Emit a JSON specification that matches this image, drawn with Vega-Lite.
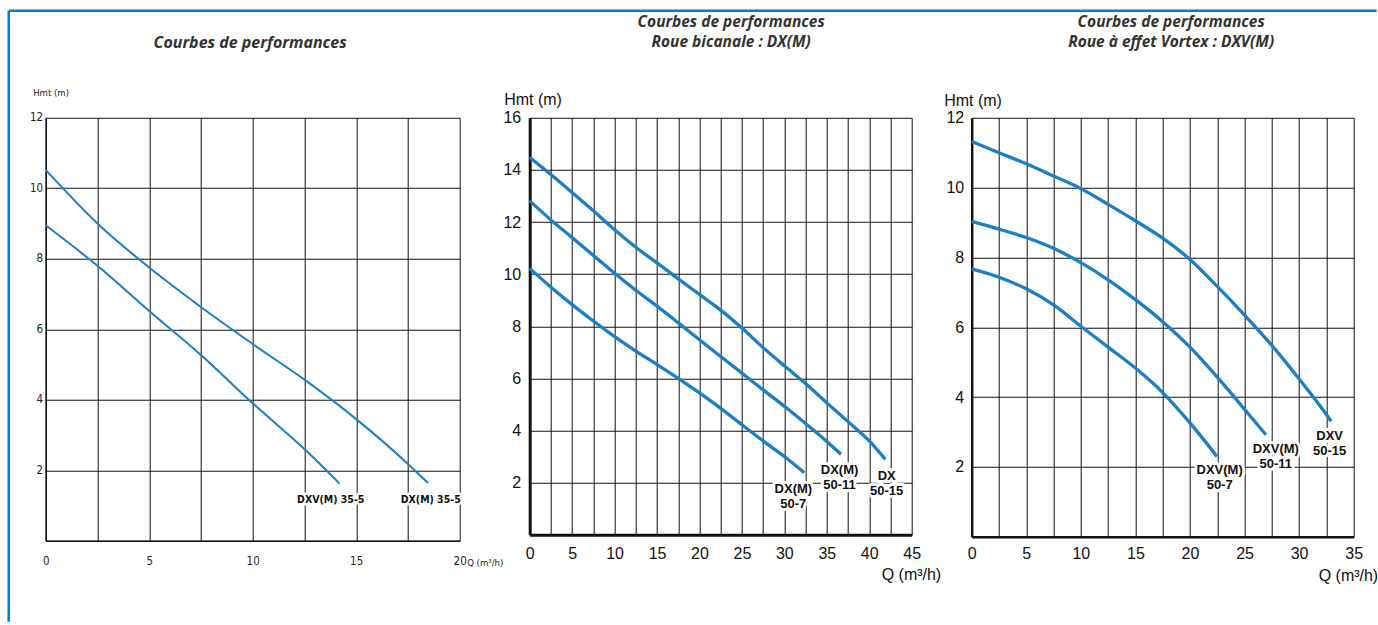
{
  "$schema": "https://vega.github.io/schema/vega-lite/v6.json",
  "padding": {"left": 6.7, "top": 8.75, "right": 0, "bottom": 0},
  "background": "white",
  "config": {"view": {"stroke": null}, "axis": {"ticks": false, "labelOverlap": false, "labelFlush": false}},
  "datasets": {
    "left": [
      {"model": "DX(M) 35-5", "q": 0, "h": 10.52}, {"model": "DX(M) 35-5", "q": 2.5, "h": 9.0}, {"model": "DX(M) 35-5", "q": 5, "h": 7.75}, {"model": "DX(M) 35-5", "q": 7.5, "h": 6.63}, {"model": "DX(M) 35-5", "q": 10, "h": 5.58}, {"model": "DX(M) 35-5", "q": 12.5, "h": 4.57}, {"model": "DX(M) 35-5", "q": 15, "h": 3.45}, {"model": "DX(M) 35-5", "q": 17.5, "h": 2.18}, {"model": "DX(M) 35-5", "q": 18.47, "h": 1.64},
      {"model": "DXV(M) 35-5", "q": 0, "h": 8.95}, {"model": "DXV(M) 35-5", "q": 2.5, "h": 7.8}, {"model": "DXV(M) 35-5", "q": 5, "h": 6.52}, {"model": "DXV(M) 35-5", "q": 7.5, "h": 5.27}, {"model": "DXV(M) 35-5", "q": 10, "h": 3.9}, {"model": "DXV(M) 35-5", "q": 12.5, "h": 2.6}, {"model": "DXV(M) 35-5", "q": 14.2, "h": 1.62}
    ],
    "leftLabels": [
      {"q": 13.77, "h": 1.16, "label": "DXV(M) 35-5"},
      {"q": 18.6, "h": 1.16, "label": "DX(M) 35-5"}
    ],
    "mid": [
      {"model": "DX 50-15", "q": 0, "h": 14.48}, {"model": "DX 50-15", "q": 2.5, "h": 13.82}, {"model": "DX 50-15", "q": 5, "h": 13.13}, {"model": "DX 50-15", "q": 7.5, "h": 12.43}, {"model": "DX 50-15", "q": 10, "h": 11.7}, {"model": "DX 50-15", "q": 12.5, "h": 11.03}, {"model": "DX 50-15", "q": 15, "h": 10.43}, {"model": "DX 50-15", "q": 17.5, "h": 9.82}, {"model": "DX 50-15", "q": 20, "h": 9.22}, {"model": "DX 50-15", "q": 22.5, "h": 8.62}, {"model": "DX 50-15", "q": 25, "h": 7.93}, {"model": "DX 50-15", "q": 27.5, "h": 7.18}, {"model": "DX 50-15", "q": 30, "h": 6.48}, {"model": "DX 50-15", "q": 32.5, "h": 5.8}, {"model": "DX 50-15", "q": 35, "h": 5.06}, {"model": "DX 50-15", "q": 37.5, "h": 4.34}, {"model": "DX 50-15", "q": 40, "h": 3.6}, {"model": "DX 50-15", "q": 41.9, "h": 2.89},
      {"model": "DX(M) 50-11", "q": 0, "h": 12.81}, {"model": "DX(M) 50-11", "q": 2.5, "h": 12.08}, {"model": "DX(M) 50-11", "q": 5, "h": 11.4}, {"model": "DX(M) 50-11", "q": 7.5, "h": 10.72}, {"model": "DX(M) 50-11", "q": 10, "h": 10.03}, {"model": "DX(M) 50-11", "q": 12.5, "h": 9.38}, {"model": "DX(M) 50-11", "q": 15, "h": 8.77}, {"model": "DX(M) 50-11", "q": 17.5, "h": 8.13}, {"model": "DX(M) 50-11", "q": 20, "h": 7.48}, {"model": "DX(M) 50-11", "q": 22.5, "h": 6.84}, {"model": "DX(M) 50-11", "q": 25, "h": 6.2}, {"model": "DX(M) 50-11", "q": 27.5, "h": 5.56}, {"model": "DX(M) 50-11", "q": 30, "h": 4.93}, {"model": "DX(M) 50-11", "q": 32.5, "h": 4.27}, {"model": "DX(M) 50-11", "q": 35, "h": 3.58}, {"model": "DX(M) 50-11", "q": 36.67, "h": 3.09},
      {"model": "DX(M) 50-7", "q": 0, "h": 10.22}, {"model": "DX(M) 50-7", "q": 2.5, "h": 9.5}, {"model": "DX(M) 50-7", "q": 5, "h": 8.83}, {"model": "DX(M) 50-7", "q": 7.5, "h": 8.2}, {"model": "DX(M) 50-7", "q": 10, "h": 7.6}, {"model": "DX(M) 50-7", "q": 12.5, "h": 7.05}, {"model": "DX(M) 50-7", "q": 15, "h": 6.53}, {"model": "DX(M) 50-7", "q": 17.5, "h": 6.0}, {"model": "DX(M) 50-7", "q": 20, "h": 5.44}, {"model": "DX(M) 50-7", "q": 22.5, "h": 4.85}, {"model": "DX(M) 50-7", "q": 25, "h": 4.22}, {"model": "DX(M) 50-7", "q": 27.5, "h": 3.6}, {"model": "DX(M) 50-7", "q": 30, "h": 3.0}, {"model": "DX(M) 50-7", "q": 32.35, "h": 2.38}
    ],
    "midLabels": [
      {"q": 31.06, "h": 1.77, "label": "DX(M)\n50-7"},
      {"q": 36.5, "h": 2.49, "label": "DX(M)\n50-11"},
      {"q": 42.05, "h": 2.26, "label": "DX\n50-15"}
    ],
    "right": [
      {"model": "DXV 50-15", "q": 0, "h": 11.32}, {"model": "DXV 50-15", "q": 2.5, "h": 11.0}, {"model": "DXV 50-15", "q": 5, "h": 10.68}, {"model": "DXV 50-15", "q": 7.5, "h": 10.33}, {"model": "DXV 50-15", "q": 10, "h": 9.97}, {"model": "DXV 50-15", "q": 12.5, "h": 9.52}, {"model": "DXV 50-15", "q": 15, "h": 9.05}, {"model": "DXV 50-15", "q": 17.5, "h": 8.55}, {"model": "DXV 50-15", "q": 20, "h": 7.94}, {"model": "DXV 50-15", "q": 22.5, "h": 7.17}, {"model": "DXV 50-15", "q": 25, "h": 6.35}, {"model": "DXV 50-15", "q": 27.5, "h": 5.48}, {"model": "DXV 50-15", "q": 30, "h": 4.52}, {"model": "DXV 50-15", "q": 32.5, "h": 3.5}, {"model": "DXV 50-15", "q": 32.93, "h": 3.31},
      {"model": "DXV(M) 50-11", "q": 0, "h": 9.03}, {"model": "DXV(M) 50-11", "q": 2.5, "h": 8.81}, {"model": "DXV(M) 50-11", "q": 5, "h": 8.57}, {"model": "DXV(M) 50-11", "q": 7.5, "h": 8.26}, {"model": "DXV(M) 50-11", "q": 10, "h": 7.85}, {"model": "DXV(M) 50-11", "q": 12.5, "h": 7.36}, {"model": "DXV(M) 50-11", "q": 15, "h": 6.79}, {"model": "DXV(M) 50-11", "q": 17.5, "h": 6.16}, {"model": "DXV(M) 50-11", "q": 20, "h": 5.43}, {"model": "DXV(M) 50-11", "q": 22.5, "h": 4.57}, {"model": "DXV(M) 50-11", "q": 25, "h": 3.65}, {"model": "DXV(M) 50-11", "q": 26.96, "h": 2.92},
      {"model": "DXV(M) 50-7", "q": 0, "h": 7.67}, {"model": "DXV(M) 50-7", "q": 2.5, "h": 7.43}, {"model": "DXV(M) 50-7", "q": 5, "h": 7.1}, {"model": "DXV(M) 50-7", "q": 7.5, "h": 6.64}, {"model": "DXV(M) 50-7", "q": 10, "h": 6.03}, {"model": "DXV(M) 50-7", "q": 12.5, "h": 5.43}, {"model": "DXV(M) 50-7", "q": 15, "h": 4.83}, {"model": "DXV(M) 50-7", "q": 17.5, "h": 4.13}, {"model": "DXV(M) 50-7", "q": 20, "h": 3.26}, {"model": "DXV(M) 50-7", "q": 22.47, "h": 2.3}
    ],
    "rightLabels": [
      {"q": 22.72, "h": 1.92, "label": "DXV(M)\n50-7"},
      {"q": 27.86, "h": 2.52, "label": "DXV(M)\n50-11"},
      {"q": 32.8, "h": 2.89, "label": "DXV\n50-15"}
    ]
  },
  "bounds": "flush",
  "spacing": 70,
  "hconcat": [
    {
      "width": 414,
      "height": 423,
      "resolve": {"axis": {"x": "independent"}},
      "layer": [
        {
          "data": {"name": "left"},
          "mark": {"type": "line", "interpolate": "monotone", "color": "#1c7fc2", "strokeWidth": 2},
          "encoding": {
            "x": {"field": "q", "type": "quantitative", "scale": {"domain": [0, 20], "nice": false},
              "axis": {"orient": "bottom", "values": [0, 2.5, 5, 7.5, 10, 12.5, 15, 17.5, 20], "labelExpr": "datum.value % 5 === 0 ? datum.label : ''",
                "labelFont": "DejaVu Sans Condensed", "labelFontSize": 11.5, "labelColor": "#222", "labelPadding": 15,
                "domainColor": "#111", "domainWidth": 1.5, "grid": true, "gridColor": "#111", "gridWidth": 1, "gridOpacity": 1,
                "title": "Q (m³/h)", "titleFont": "DejaVu Sans Condensed", "titleFontSize": 9.5, "titleFontWeight": "normal", "titleColor": "#222",
                "titleAlign": "left", "titleBaseline": "middle", "titleX": 421, "titleY": 22}},
            "y": {"field": "h", "type": "quantitative", "scale": {"domain": [0, 12], "nice": false},
              "axis": {"values": [0, 1, 2, 3, 4, 5, 6, 7, 8, 9, 10, 11, 12], "labelExpr": "datum.value % 2 === 0 && datum.value > 0 ? datum.label : ''",
                "labelFont": "DejaVu Sans Condensed", "labelFontSize": 11.5, "labelColor": "#222", "labelPadding": 3,
                "domainColor": "#111", "domainWidth": 1.5, "grid": true, "gridColor": "#111", "gridWidth": 1, "gridOpacity": 1,
                "title": "Hmt (m)", "titleFont": "DejaVu Sans Condensed", "titleFontSize": 9.5, "titleFontWeight": "normal", "titleColor": "#222",
                "titleAngle": 0, "titleAlign": "left", "titleBaseline": "middle", "titleX": -13, "titleY": -25}},
            "detail": {"field": "model"}
          }
        },
        {
          "data": {"name": "leftLabels"},
          "mark": {"type": "text", "font": "DejaVu Sans Condensed", "fontWeight": "bold", "fontSize": 10.5, "fill": "white", "stroke": "white", "strokeWidth": 5, "strokeJoin": "round", "align": "center", "baseline": "middle"},
          "encoding": {
            "x": {"field": "q", "type": "quantitative",
              "axis": {"orient": "top", "domain": false, "labels": false, "ticks": false, "grid": false,
                "title": "Courbes de performances", "titleFont": "Open Sans", "titleFontSize": 16, "titleFontStyle": "italic", "titleFontWeight": "bold", "titleColor": "#333",
                "titleAlign": "center", "titleBaseline": "top", "titleX": 204, "titleY": -83}},
            "y": {"field": "h", "type": "quantitative"},
            "text": {"field": "label"}
          }
        },
        {
          "data": {"name": "leftLabels"},
          "mark": {"type": "text", "font": "DejaVu Sans Condensed", "fontWeight": "bold", "fontSize": 10.5, "fill": "#111", "align": "center", "baseline": "middle"},
          "encoding": {
            "x": {"field": "q", "type": "quantitative", "axis": null},
            "y": {"field": "h", "type": "quantitative"},
            "text": {"field": "label"}
          }
        },
        {
          "data": {"values": [{}]},
          "mark": {"type": "rule", "color": "#0b7bc4", "strokeWidth": 2.5},
          "encoding": {
            "x": {"datum": -1.787, "type": "quantitative", "axis": null},
            "y": {"datum": 15.035, "type": "quantitative"},
            "y2": {"datum": -2.3}
          }
        },
        {
          "data": {"values": [{}]},
          "mark": {"type": "rule", "color": "#0b7bc4", "strokeWidth": 2.5},
          "encoding": {
            "x": {"datum": -1.787, "type": "quantitative", "axis": null},
            "x2": {"datum": 64.3},
            "y": {"datum": 15.035, "type": "quantitative"}
          }
        }
      ]
    },
    {
      "bounds": "flush",
      "spacing": 60,
      "hconcat": [
        {
          "width": 382,
          "height": 417,
          "resolve": {"axis": {"x": "independent"}},
          "layer": [
            {
              "data": {"name": "mid"},
              "mark": {"type": "line", "interpolate": "monotone", "color": "#1c7fc2", "strokeWidth": 3.3},
              "encoding": {
                "x": {"field": "q", "type": "quantitative", "scale": {"domain": [0, 45], "nice": false},
                  "axis": {"orient": "bottom", "values": [0, 2.5, 5, 7.5, 10, 12.5, 15, 17.5, 20, 22.5, 25, 27.5, 30, 32.5, 35, 37.5, 40, 42.5, 45], "labelExpr": "datum.value % 5 === 0 ? datum.label : ''",
                    "labelFont": "Liberation Sans", "labelFontSize": 16, "labelColor": "#111", "labelPadding": 11,
                    "domainColor": "#111", "domainWidth": 3, "grid": true, "gridColor": "#111", "gridWidth": 1, "gridOpacity": 1,
                    "title": "Q (m³/h)", "titleFont": "Liberation Sans", "titleFontSize": 16, "titleFontWeight": "normal", "titleColor": "#111",
                    "titleAlign": "right", "titleBaseline": "middle", "titleX": 411, "titleY": 40}},
                "y": {"field": "h", "type": "quantitative", "scale": {"domain": [0, 16], "nice": false},
                  "axis": {"values": [0, 1, 2, 3, 4, 5, 6, 7, 8, 9, 10, 11, 12, 13, 14, 15, 16], "labelExpr": "datum.value % 2 === 0 && datum.value > 0 ? datum.label : ''",
                    "labelFont": "Liberation Sans", "labelFontSize": 16, "labelColor": "#111", "labelPadding": 9,
                    "domainColor": "#111", "domainWidth": 3, "grid": true, "gridColor": "#111", "gridWidth": 1, "gridOpacity": 1,
                    "title": "Hmt (m)", "titleFont": "Liberation Sans", "titleFontSize": 16, "titleFontWeight": "normal", "titleColor": "#111",
                    "titleAngle": 0, "titleAlign": "left", "titleBaseline": "middle", "titleX": -26, "titleY": -18.5}},
                "detail": {"field": "model"}
              }
            },
            {
              "data": {"name": "midLabels"},
              "mark": {"type": "text", "font": "Liberation Sans", "fontWeight": "bold", "fontSize": 13, "lineBreak": "\n", "lineHeight": 15, "fill": "white", "stroke": "white", "strokeWidth": 6, "strokeJoin": "round", "align": "center", "baseline": "middle"},
              "encoding": {
                "x": {"field": "q", "type": "quantitative",
                  "axis": {"orient": "top", "domain": false, "labels": false, "ticks": false, "grid": false,
                    "title": ["Courbes de performances", "Roue bicanale : DX(M)"], "titleLineHeight": 19.5, "titleFont": "Open Sans", "titleFontSize": 15.5, "titleFontStyle": "italic", "titleFontWeight": "bold", "titleColor": "#333",
                    "titleAlign": "center", "titleBaseline": "top", "titleX": 201, "titleY": -103}},
                "y": {"field": "h", "type": "quantitative"},
                "text": {"field": "label"}
              }
            },
            {
              "data": {"name": "midLabels"},
              "mark": {"type": "text", "font": "Liberation Sans", "fontWeight": "bold", "fontSize": 13, "lineBreak": "\n", "lineHeight": 15, "fill": "#111", "align": "center", "baseline": "middle"},
              "encoding": {
                "x": {"field": "q", "type": "quantitative", "axis": null},
                "y": {"field": "h", "type": "quantitative"},
                "text": {"field": "label"}
              }
            }
          ]
        },
        {
          "width": 382,
          "height": 419,
          "resolve": {"axis": {"x": "independent"}},
          "layer": [
            {
              "data": {"name": "right"},
              "mark": {"type": "line", "interpolate": "monotone", "color": "#1c7fc2", "strokeWidth": 3.3},
              "encoding": {
                "x": {"field": "q", "type": "quantitative", "scale": {"domain": [0, 35], "nice": false},
                  "axis": {"orient": "bottom", "values": [0, 2.5, 5, 7.5, 10, 12.5, 15, 17.5, 20, 22.5, 25, 27.5, 30, 32.5, 35], "labelExpr": "datum.value % 5 === 0 ? datum.label : ''",
                    "labelFont": "Liberation Sans", "labelFontSize": 16, "labelColor": "#111", "labelPadding": 9,
                    "domainColor": "#111", "domainWidth": 2.5, "grid": true, "gridColor": "#111", "gridWidth": 1, "gridOpacity": 1,
                    "title": "Q (m³/h)", "titleFont": "Liberation Sans", "titleFontSize": 16, "titleFontWeight": "normal", "titleColor": "#111",
                    "titleAlign": "right", "titleBaseline": "middle", "titleX": 406, "titleY": 39}},
                "y": {"field": "h", "type": "quantitative", "scale": {"domain": [0, 12], "nice": false},
                  "axis": {"values": [0, 1, 2, 3, 4, 5, 6, 7, 8, 9, 10, 11, 12], "labelExpr": "datum.value % 2 === 0 && datum.value > 0 ? datum.label : ''",
                    "labelFont": "Liberation Sans", "labelFontSize": 16, "labelColor": "#111", "labelPadding": 8,
                    "domainColor": "#111", "domainWidth": 2.5, "grid": true, "gridColor": "#111", "gridWidth": 1, "gridOpacity": 1,
                    "title": "Hmt (m)", "titleFont": "Liberation Sans", "titleFontSize": 16, "titleFontWeight": "normal", "titleColor": "#111",
                    "titleAngle": 0, "titleAlign": "left", "titleBaseline": "middle", "titleX": -28, "titleY": -17.5}},
                "detail": {"field": "model"}
              }
            },
            {
              "data": {"name": "rightLabels"},
              "mark": {"type": "text", "font": "Liberation Sans", "fontWeight": "bold", "fontSize": 13, "lineBreak": "\n", "lineHeight": 15, "fill": "white", "stroke": "white", "strokeWidth": 6, "strokeJoin": "round", "align": "center", "baseline": "middle"},
              "encoding": {
                "x": {"field": "q", "type": "quantitative",
                  "axis": {"orient": "top", "domain": false, "labels": false, "ticks": false, "grid": false,
                    "title": ["Courbes de performances", "Roue à effet Vortex : DXV(M)"], "titleLineHeight": 19.5, "titleFont": "Open Sans", "titleFontSize": 15.5, "titleFontStyle": "italic", "titleFontWeight": "bold", "titleColor": "#333",
                    "titleAlign": "center", "titleBaseline": "top", "titleX": 199, "titleY": -103}},
                "y": {"field": "h", "type": "quantitative"},
                "text": {"field": "label"}
              }
            },
            {
              "data": {"name": "rightLabels"},
              "mark": {"type": "text", "font": "Liberation Sans", "fontWeight": "bold", "fontSize": 13, "lineBreak": "\n", "lineHeight": 15, "fill": "#111", "align": "center", "baseline": "middle"},
              "encoding": {
                "x": {"field": "q", "type": "quantitative", "axis": null},
                "y": {"field": "h", "type": "quantitative"},
                "text": {"field": "label"}
              }
            }
          ]
        }
      ]
    }
  ]
}
